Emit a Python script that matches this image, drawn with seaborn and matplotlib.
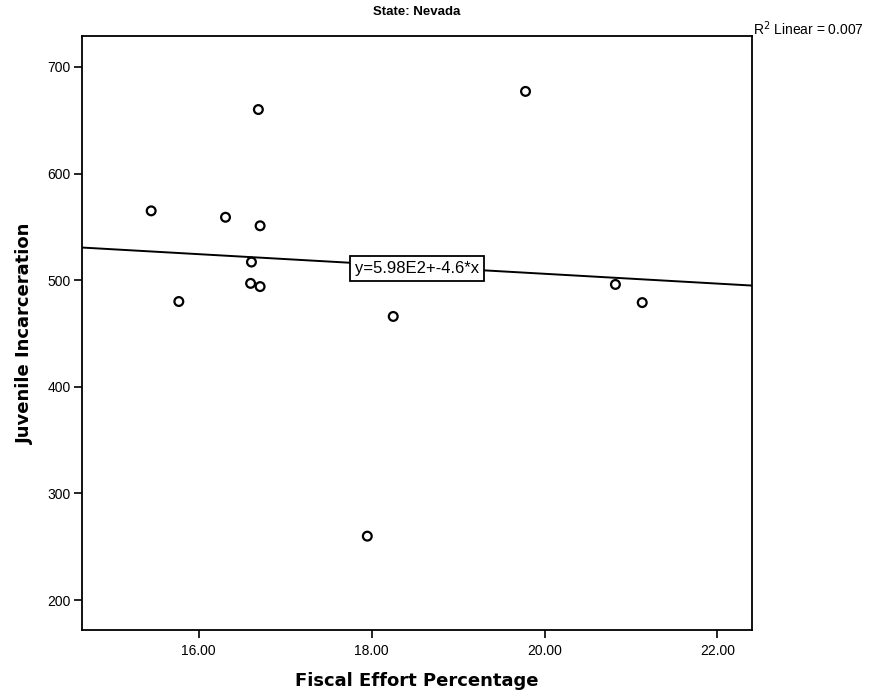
import numpy as np
import pandas as pd
import matplotlib
matplotlib.use("Agg")
import matplotlib.pyplot as plt
from matplotlib.transforms import offset_copy
import seaborn as sns

# Nevada: fiscal effort vs. juvenile incarceration
fiscal_effort = [15.45, 15.77, 16.31, 16.69, 16.71, 16.61, 16.60, 16.71,
                 18.25, 17.95, 19.78, 20.82, 21.13]
juvenile_incarceration = [565, 480, 559, 660, 551, 517, 497, 494,
                          466, 260, 677, 496, 479]

# Fitted linear model as reported
intercept = 598.0
slope = -4.6
r_squared = 0.007

x_ticks = [16, 18, 20, 22]
y_ticks = [200, 300, 400, 500, 600, 700]
x_limits = (14.65, 22.40)
y_limits = (172, 729)

sns.set_theme(style="white")
plt.rcParams["font.family"] = ["Liberation Sans", "DejaVu Sans"]
plt.rcParams["text.color"] = "black"
plt.rcParams["axes.labelcolor"] = "black"
plt.rcParams["xtick.color"] = "black"
plt.rcParams["ytick.color"] = "black"

df = pd.DataFrame({"Fiscal Effort Percentage": fiscal_effort,
                   "Juvenile Incarceration": juvenile_incarceration})

fig = plt.figure(figsize=(8.77, 6.94), dpi=100)
ax = fig.add_axes([0.0935, 0.0922, 0.764, 0.856])

sns.scatterplot(data=df, x="Fiscal Effort Percentage", y="Juvenile Incarceration",
                ax=ax, s=40, facecolor="none", edgecolor="black", linewidth=1.6,
                zorder=3)

fit_x = np.array(x_limits)
fit_df = pd.DataFrame({"x": fit_x, "y": intercept + slope * fit_x})
sns.lineplot(data=fit_df, x="x", y="y", ax=ax, color="black", linewidth=1.4,
             zorder=2)

ax.set_xlim(*x_limits)
ax.set_ylim(*y_limits)
ax.set_xticks(x_ticks)
ax.set_xticklabels([f"{t:.2f}" for t in x_ticks])
ax.set_yticks(y_ticks)
ax.tick_params(axis="both", which="major", direction="out", length=6, width=1.2,
               color="black", labelsize=10, bottom=True, left=True,
               top=False, right=False)
ax.tick_params(axis="x", pad=4)
ax.tick_params(axis="y", pad=2)
for spine in ax.spines.values():
    spine.set_color("black")
    spine.set_linewidth(1.3)

label_font = dict(family=["DejaVu Sans"], fontsize=13, fontweight="bold")
ax.set_xlabel("Fiscal Effort Percentage", labelpad=10, **label_font)
ax.set_ylabel("Juvenile Incarceration", labelpad=10, **label_font)
ax.set_title("State: Nevada", fontsize=9.5, fontweight="bold", pad=15)

mid_x = 18.52
ax.text(mid_x, intercept + slope * mid_x - 2,
        f"y={intercept/100:.2f}E2+{slope}*x", fontsize=12, ha="center",
        va="center", zorder=4,
        bbox=dict(boxstyle="square,pad=0.3", facecolor="white",
                  edgecolor="black", linewidth=1.3))

r2_trans = offset_copy(ax.transAxes, fig=fig, x=1, y=5, units="points")
ax.text(1.0, 1.0, f"R$^2$ Linear = {r_squared:.3f}", transform=r2_trans,
        fontsize=10, ha="left", va="center")

fig.savefig("out.png", dpi=100)
